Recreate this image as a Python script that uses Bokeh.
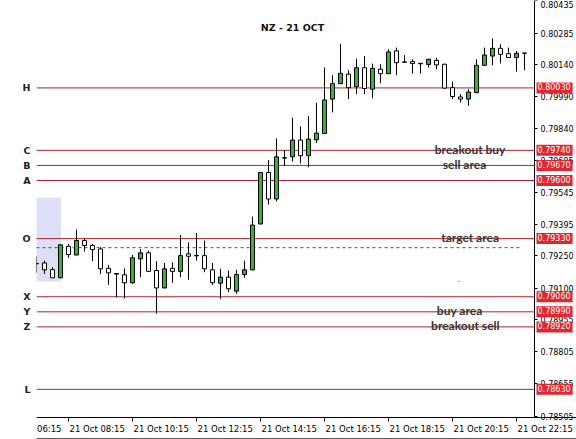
from bokeh.plotting import figure
from bokeh.models import (ColumnDataSource, FixedTicker, LinearAxis, Label,
                          PrintfTickFormatter, BoxAnnotation)
from bokeh.embed import file_html
from bokeh.resources import INLINE

# 15-minute NZD bars, 21 Oct
bar_time = ["07:15", "07:30", "07:45", "08:00", "08:15", "08:30", "08:45", "09:00",
            "09:15", "09:30", "09:45", "10:00", "10:15", "10:30", "10:45", "11:00",
            "11:15", "11:30", "11:45", "12:00", "12:15", "12:30", "12:45", "13:00",
            "13:15", "13:30", "13:45", "14:00", "14:15", "14:30", "14:45", "15:00",
            "15:15", "15:30", "15:45", "16:00", "16:15", "16:30", "16:45", "17:00",
            "17:15", "17:30", "17:45", "18:00", "18:15", "18:30", "18:45", "19:00",
            "19:15", "19:30", "19:45", "20:00", "20:15", "20:30", "20:45", "21:00",
            "21:15", "21:30", "21:45", "22:00", "22:15", "22:30"]

open_ = [0.79215, 0.79217, 0.79186, 0.79148, 0.79294, 0.79254, 0.79321, 0.79298,
         0.79282, 0.79192, 0.79168, 0.79162, 0.79125, 0.79236, 0.79264, 0.79182,
         0.79101, 0.79192, 0.79178, 0.79259, 0.79252, 0.79251, 0.79185, 0.79123,
         0.79151, 0.79086, 0.79163, 0.79185, 0.79398, 0.79637, 0.79514, 0.79706,
         0.79710, 0.79788, 0.79715, 0.79789, 0.79818, 0.79978, 0.80050, 0.80094,
         0.80036, 0.80124, 0.80024, 0.80117, 0.80096, 0.80202, 0.80151, 0.80152,
         0.80144, 0.80139, 0.80158, 0.80140, 0.80031, 0.79988, 0.79978, 0.80008,
         0.80135, 0.80178, 0.80214, 0.80189, 0.80171, 0.80192]
high = [0.79247, 0.79228, 0.79197, 0.79303, 0.79305, 0.79372, 0.79329, 0.79305,
        0.79290, 0.79208, 0.79169, 0.79192, 0.79254, 0.79282, 0.79274, 0.79225,
        0.79217, 0.79220, 0.79347, 0.79313, 0.79356, 0.79321, 0.79217, 0.79190,
        0.79182, 0.79185, 0.79228, 0.79432, 0.79639, 0.79695, 0.79795, 0.79741,
        0.79892, 0.79851, 0.79900, 0.79961, 0.80125, 0.80089, 0.80235, 0.80112,
        0.80166, 0.80178, 0.80143, 0.80140, 0.80209, 0.80217, 0.80182, 0.80163,
        0.80146, 0.80165, 0.80170, 0.80142, 0.80059, 0.80001, 0.80024, 0.80163,
        0.80217, 0.80260, 0.80233, 0.80217, 0.80202, 0.80193]
low = [0.79172, 0.79166, 0.79147, 0.79146, 0.79241, 0.79253, 0.79270, 0.79225,
       0.79166, 0.79115, 0.79058, 0.79052, 0.79120, 0.79151, 0.79176, 0.78981,
       0.79099, 0.79125, 0.79151, 0.79139, 0.79228, 0.79174, 0.79115, 0.79050,
       0.79081, 0.79074, 0.79148, 0.79183, 0.79396, 0.79488, 0.79503, 0.79668,
       0.79688, 0.79679, 0.79661, 0.79774, 0.79816, 0.79916, 0.80047, 0.79978,
       0.80001, 0.80001, 0.79982, 0.80052, 0.80094, 0.80089, 0.80148, 0.80096,
       0.80096, 0.80125, 0.80117, 0.80025, 0.79978, 0.79962, 0.79947, 0.80006,
       0.80132, 0.80135, 0.80144, 0.80169, 0.80106, 0.80112]
close = [0.79213, 0.79185, 0.79148, 0.79301, 0.79256, 0.79321, 0.79298, 0.79279,
         0.79190, 0.79171, 0.79165, 0.79125, 0.79241, 0.79264, 0.79178, 0.79101,
         0.79190, 0.79178, 0.79251, 0.79248, 0.79250, 0.79190, 0.79125, 0.79151,
         0.79097, 0.79163, 0.79185, 0.79393, 0.79637, 0.79514, 0.79710, 0.79704,
         0.79788, 0.79715, 0.79792, 0.79820, 0.79974, 0.80050, 0.80098, 0.80031,
         0.80124, 0.80027, 0.80121, 0.80096, 0.80197, 0.80147, 0.80149, 0.80143,
         0.80142, 0.80163, 0.80137, 0.80029, 0.79990, 0.79978, 0.80011, 0.80135,
         0.80183, 0.80214, 0.80186, 0.80171, 0.80191, 0.80191]

# horizontal trading levels
level_names = ["H", "C", "B", "A", "O", "X", "Y", "Z", "L"]
level_prices = [0.80030, 0.79740, 0.79670, 0.79600, 0.79330,
                0.79060, 0.78990, 0.78920, 0.78630]

# price scale ticks
price_ticks = [0.80435, 0.80285, 0.80140, 0.79990, 0.79840, 0.79695, 0.79545,
               0.79395, 0.79250, 0.79100, 0.78955, 0.78805, 0.78655, 0.78505]

# time scale labels
date_ticks = ["08:15", "10:15", "12:15", "14:15", "16:15", "18:15", "20:15", "22:15"]
date_labels = ["21 Oct 08:15", "21 Oct 10:15", "21 Oct 12:15", "21 Oct 14:15",
               "21 Oct 16:15", "21 Oct 18:15", "21 Oct 20:15", "21 Oct 22:15"]

# shaded opening range and the dashed mid line
zone_low, zone_high = 0.79131, 0.79520
zone_end = "08:00"
mid_line = 0.79288

# notes written on the chart
notes = ["breakout buy", "sell area", "target area", "buy area", "breakout sell"]
note_levels = [0.79740, 0.79670, 0.79330, 0.78990, 0.78920]

GREEN = "#36b336"
RED_LINE = "#b3202a"
RED_TAG = "#e2262e"

# chart area in data units; the price scale and time scale sit inside the canvas
X0, X_AXIS, X1 = 0.0, 62.25, 67.5
Y_AXIS, Y1 = 0.78499, 0.80436
Y0 = 0.78397
Y_EDGE = 0.78400   # bottom border of the time scale strip

x = list(range(len(bar_time)))
src = ColumnDataSource(dict(
    x=x, open=open_, high=high, low=low, close=close,
    top=[max(o, c) for o, c in zip(open_, close)],
    bottom=[min(o, c) for o, c in zip(open_, close)],
    fill=[GREEN if c > o else "white" for o, c in zip(open_, close)],
))

p = figure(width=576, height=439, x_range=(X0, X1), y_range=(Y0, Y1),
           y_axis_location="right", output_backend="svg", toolbar_location=None,
           min_border_left=36, min_border_right=0, min_border_top=0, min_border_bottom=0)
p.outline_line_color = None
p.grid.visible = False
p.background_fill_color = "white"
p.border_fill_color = "white"

# opening range box
p.add_layout(BoxAnnotation(left=-0.5, right=bar_time.index(zone_end) + 0.05,
                           bottom=zone_low, top=zone_high,
                           fill_color="#dcdff5", fill_alpha=1.0, line_color=None,
                           level="underlay"))

# level lines, up to the price scale
p.segment(x0=[X0] * len(level_prices), y0=level_prices,
          x1=[X_AXIS] * len(level_prices), y1=level_prices,
          line_color=RED_LINE, line_width=1)

p.segment(x0=X0, y0=mid_line, x1=60.75, y1=mid_line,
          line_color="#555555", line_width=1, line_dash="3 3")

# candles
p.segment(x0="x", y0="high", x1="x", y1="low", source=src, line_color="black", line_width=1)
p.vbar(x="x", width=0.5, top="top", bottom="bottom", source=src,
       fill_color="fill", line_color="black", line_width=1)

# bottom border of the time scale strip
p.segment(x0=X0, y0=Y_EDGE, x1=X1, y1=Y_EDGE, line_color="black", line_width=1)

# price scale on the right edge of the chart area
ya = p.yaxis[0]
ya.fixed_location = X_AXIS
ya.bounds = (Y_AXIS, Y1)
ya.ticker = FixedTicker(ticks=price_ticks)
ya.formatter = PrintfTickFormatter(format="%.5f")
ya.major_tick_out = 3
ya.major_tick_in = 0
ya.minor_tick_line_color = None
ya.major_label_standoff = 3
ya.major_label_text_font = "DejaVu Sans"
ya.major_label_text_font_size = "8px"
ya.major_label_text_color = "black"
ya.axis_line_color = "black"

# left axis carries the level letters
la = LinearAxis(ticker=FixedTicker(ticks=level_prices),
                major_label_overrides={v: n for v, n in zip(level_prices, level_names)},
                axis_line_color=None, major_tick_line_color=None, minor_tick_line_color=None,
                major_tick_out=0, major_tick_in=0,
                major_label_standoff=6, major_label_text_font="DejaVu Sans",
                major_label_text_font_style="bold", major_label_text_font_size="9.5px",
                major_label_text_color="#222222")
p.add_layout(la, "left")

# time scale: ticks from the axis, labels start at each tick
xa = p.xaxis[0]
xa.fixed_location = Y_AXIS
xa.bounds = (X0, X1)
xa.ticker = FixedTicker(ticks=[bar_time.index(t) for t in date_ticks])
xa.major_tick_out = 4
xa.major_tick_in = 0
xa.minor_tick_line_color = None
xa.major_label_text_color = None
xa.axis_line_color = "black"

lab_style = dict(y=10.5, y_units="screen", text_align="left", text_baseline="middle",
                 text_font="DejaVu Sans", text_font_size="8.5px", text_color="black")
for t, s in zip(date_ticks, date_labels):
    p.add_layout(Label(x=bar_time.index(t), x_offset=1, text=s, **lab_style))
p.add_layout(Label(x=X0, x_offset=0.5, text="06:15", **lab_style))

# price tags for each level
for lv in level_prices:
    p.add_layout(Label(x=X_AXIS, y=lv, x_offset=2, text=f"{lv:.5f}",
                       text_align="left", text_baseline="middle",
                       text_font="DejaVu Sans", text_font_size="8px", text_color="white",
                       background_fill_color=RED_TAG, padding=(1, 2, 1, 3)))

# chart title
p.add_layout(Label(x=32, y=0.80311, text="NZ - 21 OCT", text_align="center",
                   text_baseline="middle", text_font="DejaVu Sans", text_font_style="bold",
                   text_font_size="9.5px", text_color="#111111"))

# notes on the levels
note_x = [54.2, 53.5, 54.2, 52.9, 53.6]
for s, lv, nx in zip(notes, note_levels, note_x):
    p.add_layout(Label(x=nx, y=lv, y_offset=1, text=s, text_align="center",
                       text_baseline="middle", text_font="Lato", text_font_style="bold",
                       text_font_size="12px", text_color="#333333"))
p.add_layout(Label(x=52.8, y=0.79145, text=".", text_align="center", text_baseline="middle",
                   text_font="Lato", text_font_size="10px", text_color="#666666"))

open("out.html", "w").write(file_html(p, INLINE))
